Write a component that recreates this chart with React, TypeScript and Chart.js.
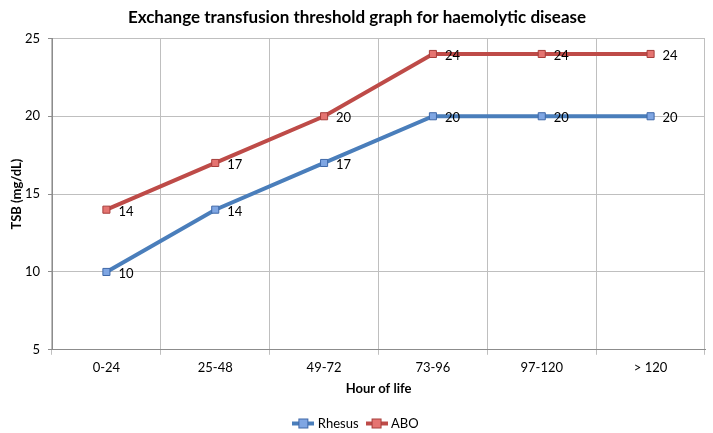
import React, { useEffect, useRef } from "react";
import { Chart, registerables } from "chart.js";

Chart.register(...registerables);

const categories = ["0-24", "25-48", "49-72", "73-96", "97-120", "> 120"];
const rhesus = [10, 14, 17, 20, 20, 20];
const abo = [14, 17, 20, 24, 24, 24];
const yTicks = [5, 10, 15, 20, 25];

const FONT = "Lato, 'Open Sans', sans-serif";

function makeLegendIcon(line: string, fill: string, border: string) {
  const c = document.createElement("canvas");
  c.width = 22;
  c.height = 12;
  const ctx = c.getContext("2d")!;
  ctx.strokeStyle = line;
  ctx.lineWidth = 4;
  ctx.beginPath();
  ctx.moveTo(0, 6);
  ctx.lineTo(22, 6);
  ctx.stroke();
  ctx.fillStyle = fill;
  ctx.fillRect(6, 1, 10, 10);
  ctx.strokeStyle = border;
  ctx.lineWidth = 1;
  ctx.strokeRect(6.5, 1.5, 9, 9);
  return c;
}

const dataLabels = {
  id: "dataLabels",
  afterDatasetsDraw(chart: any) {
    const ctx = chart.ctx;
    ctx.save();
    ctx.font = `13px ${FONT}`;
    ctx.fillStyle = "#000";
    ctx.textAlign = "left";
    ctx.textBaseline = "middle";
    chart.data.datasets.forEach((ds: any, i: number) => {
      const meta = chart.getDatasetMeta(i);
      meta.data.forEach((pt: any, j: number) => {
        ctx.fillText(String(ds.data[j]), pt.x + 12, pt.y + 2);
      });
    });
    ctx.restore();
  },
};

export default function App() {
  const ref = useRef<HTMLCanvasElement>(null);
  useEffect(() => {
    document.body.style.margin = "0";
    const blueIcon = makeLegendIcon("#4a7ebb", "#7fa6e3", "#3f68a8");
    const redIcon = makeLegendIcon("#be4b48", "#e57471", "#a63e3b");
    const chart = new Chart(ref.current!, {
      type: "line",
      data: {
        labels: categories,
        datasets: [
          {
            label: "Rhesus",
            data: rhesus,
            borderColor: "#4a7ebb",
            borderWidth: 4,
            pointStyle: "rect",
            pointRadius: 5,
            pointBackgroundColor: "#7fa6e3",
            pointBorderColor: "#3f68a8",
            pointBorderWidth: 1,
            tension: 0,
          },
          {
            label: "ABO",
            data: abo,
            borderColor: "#be4b48",
            borderWidth: 4,
            pointStyle: "rect",
            pointRadius: 5,
            pointBackgroundColor: "#e57471",
            pointBorderColor: "#a63e3b",
            pointBorderWidth: 1,
            tension: 0,
          },
        ],
      },
      options: {
        animation: false,
        responsive: false,
        layout: { padding: { left: 9, right: 8, top: 1, bottom: -7 } },
        plugins: {
          title: {
            display: true,
            text: "Exchange transfusion threshold graph for haemolytic disease",
            color: "#000",
            font: { family: FONT, size: 17, weight: "bold" },
            padding: { top: 6, bottom: 11 },
          },
          legend: {
            position: "bottom",
            labels: {
              color: "#000",
              font: { family: FONT, size: 13 },
              usePointStyle: true,
              pointStyleWidth: 16,
              padding: 10,
              generateLabels: (ch: any) =>
                ch.data.datasets.map((ds: any, i: number) => ({
                  text: ds.label,
                  pointStyle: i === 0 ? blueIcon : redIcon,
                  datasetIndex: i,
                  fillStyle: ds.borderColor,
                  strokeStyle: ds.borderColor,
                  hidden: false,
                  lineWidth: 0,
                })),
            },
          },
          tooltip: { enabled: false },
        },
        scales: {
          x: {
            offset: true,
            grid: { offset: true, color: "#bfbfbf", lineWidth: 1, tickLength: 5, tickColor: "#bfbfbf" },
            border: { color: "#8c8c8c" },
            ticks: { color: "#000", font: { family: FONT, size: 13 }, padding: 5 },
            title: {
              display: true,
              text: "Hour of life",
              color: "#000",
              font: { family: FONT, size: 13, weight: "bold" },
              padding: { top: 1, bottom: 10 },
            },
          },
          y: {
            min: 5,
            max: 25,
            afterBuildTicks: (axis: any) => {
              axis.ticks = yTicks.map((v) => ({ value: v }));
            },
            afterFit: (axis: any) => {
              axis.width = 43;
            },
            grid: { color: "#bfbfbf", lineWidth: 1, tickLength: 4, tickColor: "#8c8c8c" },
            border: { color: "#8c8c8c" },
            ticks: { color: "#000", font: { family: FONT, size: 13 }, padding: 8 },
            title: {
              display: true,
              text: "TSB (mg/dL)",
              color: "#000",
              font: { family: FONT, size: 13, weight: "bold" },
              padding: { top: 0, bottom: 1 },
            },
          },
        },
      },
      plugins: [dataLabels],
    });
    return () => chart.destroy();
  }, []);
  return (
    <div style={{ position: "absolute", left: 0, top: 0, width: 713, height: 433, background: "#fff" }}>
      <canvas ref={ref} width={713} height={433} />
    </div>
  );
}
